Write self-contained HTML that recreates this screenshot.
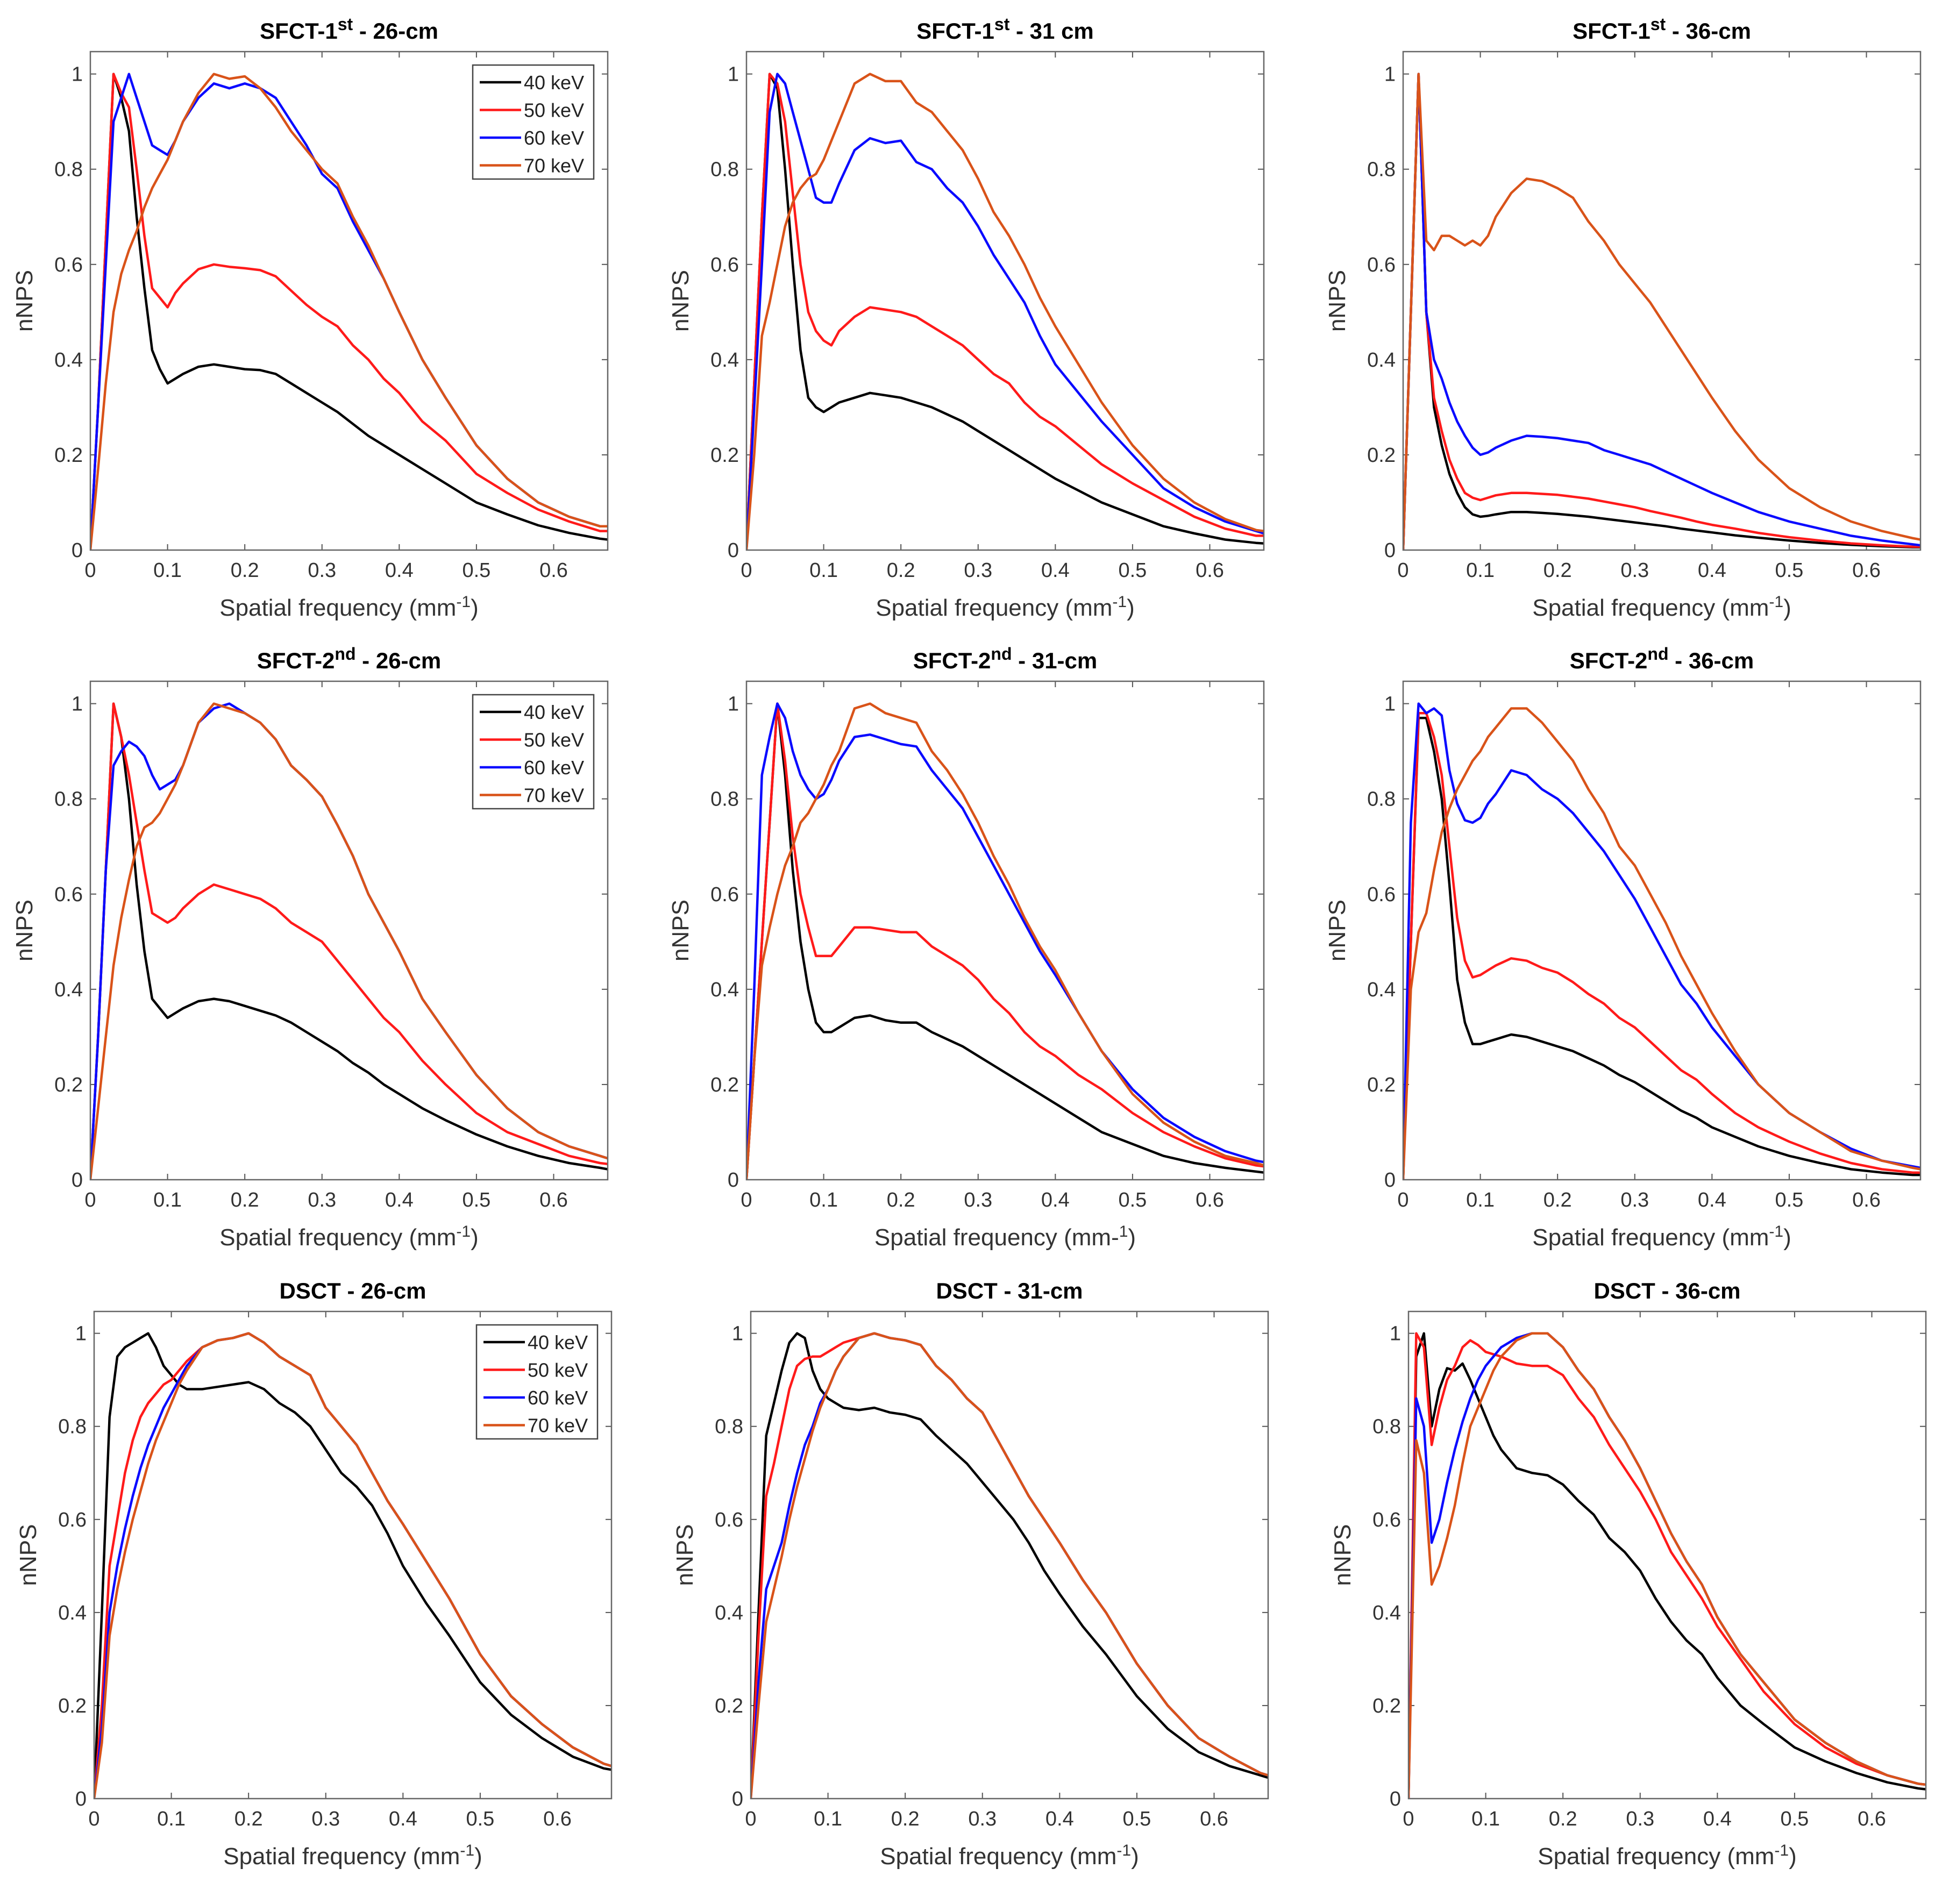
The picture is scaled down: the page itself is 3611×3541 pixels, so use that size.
<!DOCTYPE html>
<html><head><meta charset="utf-8">
<style>
html,body{margin:0;padding:0;background:#fff;}
svg{display:block;font-family:"Liberation Sans",Arial,sans-serif;}
</style></head>
<body>
<svg id="chart" xmlns="http://www.w3.org/2000/svg" width="3611" height="3541" viewBox="0 0 3611 3541">
<rect x="0" y="0" width="3611" height="3541" fill="#fff"/>
</svg>
<script>
const xs = [0,.01,.02,.03,.04,.05,.06,.07,.08,.09,.1,.11,.12,.14,.16,.18,.2,.22,.24,.26,.28,.3,.32,.34,.36,.38,.4,.43,.46,.5,.54,.58,.62,.66,.67];
const seriesNames = ["40 keV","50 keV","60 keV","70 keV"];
const xTicks = [0,0.1,0.2,0.3,0.4,0.5,0.6];
const xTickLabels = ["0","0.1","0.2","0.3","0.4","0.5","0.6"];
const yTicks = [0,0.2,0.4,0.6,0.8,1];
const yTickLabels = ["0","0.2","0.4","0.6","0.8","1"];
const titles = [["SFCT-1","st"," - 26-cm"],["SFCT-1","st"," - 31 cm"],["SFCT-1","st"," - 36-cm"],
["SFCT-2","nd"," - 26-cm"],["SFCT-2","nd"," - 31-cm"],["SFCT-2","nd"," - 36-cm"],
["DSCT - 26-cm","",""],["DSCT - 31-cm","",""],["DSCT - 36-cm","",""]];

const p1_40=[0,.3,.65,1.0,.95,.88,.7,.55,.42,.38,.35,.36,.37,.385,.39,.385,.38,.378,.37,.35,.33,.31,.29,.265,.24,.22,.2,.17,.14,.1,.075,.052,.036,.024,.022];
const p1_50=[0,.3,.65,1.0,.96,.93,.8,.66,.55,.53,.51,.54,.56,.59,.6,.595,.592,.588,.575,.545,.515,.49,.47,.43,.4,.36,.33,.27,.23,.16,.12,.085,.06,.04,.04];
const p1_60=[0,.3,.6,.9,.95,1.0,.95,.9,.85,.84,.83,.86,.9,.95,.98,.97,.98,.97,.95,.9,.85,.79,.76,.69,.63,.57,.5,.4,.32,.22,.15,.1,.07,.05,.05];
const p1_70=[0,.17,.35,.5,.58,.63,.67,.72,.76,.79,.82,.86,.9,.96,1.0,.99,.995,.97,.93,.88,.84,.8,.77,.7,.64,.57,.5,.4,.32,.22,.15,.1,.07,.05,.05];

const p2_40=[0,.35,.7,1.0,.97,.8,.6,.42,.32,.3,.29,.3,.31,.32,.33,.325,.32,.31,.3,.285,.27,.25,.23,.21,.19,.17,.15,.125,.1,.075,.05,.035,.022,.015,.014];
const p2_50=[0,.35,.7,1.0,.98,.9,.75,.6,.5,.46,.44,.43,.46,.49,.51,.505,.5,.49,.47,.45,.43,.4,.37,.35,.31,.28,.26,.22,.18,.14,.105,.07,.045,.03,.03];
const p2_60=[0,.3,.6,.92,1.0,.98,.92,.86,.8,.74,.73,.73,.77,.84,.865,.855,.86,.815,.8,.76,.73,.68,.62,.57,.52,.45,.39,.33,.27,.2,.13,.09,.06,.04,.035];
const p2_70=[0,.2,.45,.52,.6,.68,.73,.76,.78,.79,.82,.86,.9,.98,1.0,.985,.985,.94,.92,.88,.84,.78,.71,.66,.6,.53,.47,.39,.31,.22,.15,.1,.065,.042,.04];

const p3_40=[0,.5,1.0,.5,.3,.22,.16,.12,.09,.075,.07,.072,.075,.08,.08,.078,.076,.073,.07,.066,.062,.058,.054,.05,.045,.041,.037,.031,.026,.02,.015,.011,.008,.006,.006];
const p3_50=[0,.5,1.0,.5,.32,.25,.19,.15,.12,.11,.105,.11,.115,.12,.12,.118,.116,.112,.108,.102,.096,.09,.082,.075,.068,.06,.053,.045,.036,.027,.02,.014,.01,.007,.007];
const p3_60=[0,.5,1.0,.5,.4,.36,.31,.27,.24,.215,.2,.205,.215,.23,.24,.238,.235,.23,.225,.21,.2,.19,.18,.165,.15,.135,.12,.1,.08,.06,.045,.03,.02,.012,.01];
const p3_70=[0,.5,1.0,.65,.63,.66,.66,.65,.64,.65,.64,.66,.7,.75,.78,.775,.76,.74,.69,.65,.6,.56,.52,.47,.42,.37,.32,.25,.19,.13,.09,.06,.04,.025,.022];

const p4_40=[0,.3,.65,1.0,.93,.8,.62,.48,.38,.36,.34,.35,.36,.375,.38,.375,.365,.355,.345,.33,.31,.29,.27,.245,.225,.2,.18,.15,.125,.095,.07,.05,.035,.025,.022];
const p4_50=[0,.3,.65,1.0,.93,.85,.75,.65,.56,.55,.54,.55,.57,.6,.62,.61,.6,.59,.57,.54,.52,.5,.46,.42,.38,.34,.31,.25,.2,.14,.1,.075,.05,.035,.033];
const p4_60=[0,.3,.65,.87,.9,.92,.91,.89,.85,.82,.83,.84,.87,.96,.99,1.0,.98,.96,.925,.87,.84,.805,.745,.68,.6,.54,.48,.38,.31,.22,.15,.1,.07,.05,.045];
const p4_70=[0,.15,.3,.45,.55,.63,.7,.74,.75,.77,.8,.83,.87,.96,1.0,.99,.98,.96,.925,.87,.84,.805,.745,.68,.6,.54,.48,.38,.31,.22,.15,.1,.07,.05,.045];

const p5_40=[0,.25,.5,.75,1.0,.85,.65,.5,.4,.33,.31,.31,.32,.34,.345,.335,.33,.33,.31,.295,.28,.26,.24,.22,.2,.18,.16,.13,.1,.075,.05,.035,.025,.017,.015];
const p5_50=[0,.25,.5,.75,1.0,.88,.72,.6,.53,.47,.47,.47,.49,.53,.53,.525,.52,.52,.49,.47,.45,.42,.38,.35,.31,.28,.26,.22,.19,.14,.1,.07,.045,.03,.028];
const p5_60=[0,.4,.85,.93,1.0,.97,.9,.85,.82,.8,.81,.84,.88,.93,.935,.925,.915,.91,.86,.82,.78,.72,.66,.6,.54,.48,.43,.35,.27,.19,.13,.09,.06,.04,.037];
const p5_70=[0,.25,.45,.53,.6,.66,.7,.75,.77,.8,.83,.87,.9,.99,1.0,.98,.97,.96,.9,.86,.81,.75,.68,.62,.55,.49,.44,.35,.27,.18,.12,.08,.05,.035,.03];

const p6_40=[0,.5,.97,.97,.9,.8,.62,.42,.33,.285,.285,.29,.295,.305,.3,.29,.28,.27,.255,.24,.22,.205,.185,.165,.145,.13,.11,.09,.07,.05,.035,.022,.015,.01,.01];
const p6_50=[0,.5,.98,.98,.93,.85,.7,.55,.46,.425,.43,.44,.45,.465,.46,.445,.435,.415,.39,.37,.34,.32,.29,.26,.23,.21,.18,.14,.11,.08,.055,.035,.022,.015,.015];
const p6_60=[0,.75,1.0,.98,.99,.975,.86,.79,.755,.75,.76,.79,.81,.86,.85,.82,.8,.77,.73,.69,.64,.59,.53,.47,.41,.37,.32,.26,.2,.14,.1,.065,.04,.028,.025];
const p6_70=[0,.4,.52,.56,.65,.73,.78,.82,.85,.88,.9,.93,.95,.99,.99,.96,.92,.88,.82,.77,.7,.66,.6,.54,.47,.41,.35,.27,.2,.14,.1,.06,.04,.025,.022];

const p7_40=[0,.4,.82,.95,.97,.98,.99,1.0,.97,.93,.91,.89,.88,.88,.885,.89,.895,.88,.85,.83,.8,.75,.7,.67,.63,.57,.5,.42,.35,.25,.18,.13,.09,.065,.062];
const p7_50=[0,.2,.5,.6,.7,.77,.82,.85,.87,.89,.9,.92,.94,.97,.985,.99,1.0,.98,.95,.93,.91,.84,.8,.76,.7,.64,.59,.51,.43,.31,.22,.16,.11,.075,.07];
const p7_60=[0,.15,.4,.5,.58,.65,.71,.76,.8,.84,.87,.9,.93,.97,.985,.99,1.0,.98,.95,.93,.91,.84,.8,.76,.7,.64,.59,.51,.43,.31,.22,.16,.11,.075,.07];
const p7_70=[0,.12,.35,.45,.53,.6,.66,.72,.77,.81,.85,.89,.92,.97,.985,.99,1.0,.98,.95,.93,.91,.84,.8,.76,.7,.64,.59,.51,.43,.31,.22,.16,.11,.075,.07];

const p8_40=[0,.4,.78,.85,.92,.98,1.0,.99,.92,.88,.86,.85,.84,.835,.84,.83,.825,.815,.78,.75,.72,.68,.64,.6,.55,.49,.44,.37,.31,.22,.15,.1,.07,.05,.045];
const p8_50=[0,.35,.65,.72,.8,.88,.93,.945,.95,.95,.96,.97,.98,.99,1.0,.99,.985,.975,.93,.9,.86,.83,.77,.71,.65,.6,.55,.47,.4,.29,.2,.13,.09,.055,.05];
const p8_60=[0,.25,.45,.5,.55,.63,.7,.76,.8,.85,.88,.92,.95,.99,1.0,.99,.985,.975,.93,.9,.86,.83,.77,.71,.65,.6,.55,.47,.4,.29,.2,.13,.09,.055,.05];
const p8_70=[0,.2,.38,.45,.52,.6,.67,.73,.79,.84,.88,.92,.95,.99,1.0,.99,.985,.975,.93,.9,.86,.83,.77,.71,.65,.6,.55,.47,.4,.29,.2,.13,.09,.055,.05];

const p9_40=[0,.95,1.0,.8,.88,.925,.92,.935,.9,.86,.82,.78,.75,.71,.7,.695,.675,.64,.61,.56,.53,.49,.43,.38,.34,.31,.26,.2,.16,.11,.08,.055,.035,.022,.02];
const p9_50=[0,1.0,.97,.76,.84,.9,.93,.97,.985,.975,.96,.955,.95,.935,.93,.93,.91,.86,.82,.76,.71,.66,.6,.53,.48,.43,.37,.3,.23,.16,.11,.075,.05,.032,.03];
const p9_60=[0,.86,.8,.55,.6,.68,.75,.81,.86,.9,.93,.95,.97,.99,1.0,1.0,.97,.92,.88,.82,.77,.71,.64,.57,.51,.46,.39,.31,.25,.17,.12,.08,.05,.032,.03];
const p9_70=[0,.77,.7,.46,.5,.56,.63,.72,.8,.84,.88,.92,.95,.985,1.0,1.0,.97,.92,.88,.82,.77,.71,.64,.57,.51,.46,.39,.31,.25,.17,.12,.08,.05,.032,.03];

const panelData = [[p1_40,p1_50,p1_60,p1_70],[p2_40,p2_50,p2_60,p2_70],[p3_40,p3_50,p3_60,p3_70],
[p4_40,p4_50,p4_60,p4_70],[p5_40,p5_50,p5_60,p5_70],[p6_40,p6_50,p6_60,p6_70],
[p7_40,p7_50,p7_60,p7_70],[p8_40,p8_50,p8_60,p8_70],[p9_40,p9_50,p9_60,p9_70]];

(function(){
const NS="http://www.w3.org/2000/svg";
const svg=document.getElementById('chart');
const colors=["#000000","#ff1a1a","#0a0aff","#d95319"];
const lefts=[[168,1388,2609],[168,1388,2609],[175,1396,2619]];
const tops=[96,1267,2439];
const heights=[927,927,906];
const W=962, XMAX=0.67, YMAX=1.047;
function mk(tag,attrs,parent){const e=document.createElementNS(NS,tag);for(const k in attrs)e.setAttribute(k,attrs[k]);(parent||svg).appendChild(e);return e;}
for(let p=0;p<9;p++){
  const r=Math.floor(p/3), c=p%3;
  const L=lefts[r][c], T=tops[r], H=heights[r];
  const sx=v=>L+v/XMAX*W, sy=v=>T+H-v/YMAX*H;
  const g=mk('g',{});
  
  
  const t=titles[p];
  const tt=mk('text',{x:L+W/2,y:T-24,'text-anchor':'middle','font-size':42,'font-weight':'bold',fill:'#000'},g);
  
  
  const s1=mk('tspan',{},tt);s1.textContent=t[0];
  if(t[1]){const s2=mk('tspan',{dy:-16,'font-size':32},tt);s2.textContent=t[1];const s3=mk('tspan',{dy:16},tt);s3.textContent=t[2];}
  xTicks.forEach((v,i)=>{
    const x=sx(v);
    mk('line',{x1:x,y1:T+H,x2:x,y2:T+H-11,stroke:'#555','stroke-width':2},g);
    mk('line',{x1:x,y1:T,x2:x,y2:T+11,stroke:'#555','stroke-width':2},g);
    const lb=mk('text',{x:x,y:T+H+50,'text-anchor':'middle','font-size':38,fill:'#333'},g);
    
    
    lb.textContent=xTickLabels[i];
  });
  yTicks.forEach((v,i)=>{
    const y=sy(v);
    mk('line',{x1:L,y1:y,x2:L+11,y2:y,stroke:'#555','stroke-width':2},g);
    mk('line',{x1:L+W,y1:y,x2:L+W-11,y2:y,stroke:'#555','stroke-width':2},g);
    const lb=mk('text',{x:L-14,y:y+13,'text-anchor':'end','font-size':38,fill:'#333'},g);
    
    
    lb.textContent=yTickLabels[i];
  });
  const xl=mk('text',{x:L+W/2,y:T+H+122,'text-anchor':'middle','font-size':44,fill:'#333'},g);
  
  
  const a=mk('tspan',{},xl);a.textContent=(p===4)?'Spatial frequency (mm-':'Spatial frequency (mm';
  const b=mk('tspan',{dy:-16,'font-size':30},xl);b.textContent=(p===4)?'1':'-1';
  const cc=mk('tspan',{dy:16},xl);cc.textContent=')';
  const yl=mk('text',{x:0,y:0,'text-anchor':'middle','font-size':44,fill:'#333',transform:'translate('+(L-108)+','+(T+H/2)+') rotate(-90)'},g);
  
  
  yl.textContent='nNPS';
  const svgClip='clip'+p;
  const cp=mk('clipPath',{id:svgClip},g);mk('rect',{x:L,y:T,width:W,height:H},cp);
  panelData[p].forEach((ys,si)=>{
    const d=ys.map((v,i)=>(i?'L':'M')+sx(xs[i]).toFixed(1)+','+sy(v).toFixed(1)).join(' ');
    const path=mk('path',{d:d,fill:'none',stroke:colors[si],'stroke-width':4.5,'stroke-linejoin':'round','clip-path':'url(#'+svgClip+')'},g);
    
    
  });
  const box=mk('rect',{x:L,y:T,width:W,height:H,fill:'none',stroke:'#666','stroke-width':2.5},g);
  
  
  if(c===0){
    const lx=L+711, ly=T+25;
    const lg=mk('g',{},g);
    
    
    mk('rect',{x:lx,y:ly,width:225,height:212,fill:'#fff',stroke:'#444','stroke-width':2.5},lg);
    seriesNames.forEach((n,si)=>{
      const yy=ly+32+si*51.5;
      mk('line',{x1:lx+13,y1:yy,x2:lx+90,y2:yy,stroke:colors[si],'stroke-width':4.5},lg);
      const lt=mk('text',{x:lx+95,y:yy+13,'font-size':36,fill:'#222'},lg);
      
      
      lt.textContent=n;
    });
  }
}
})();
</script>
</body></html>
